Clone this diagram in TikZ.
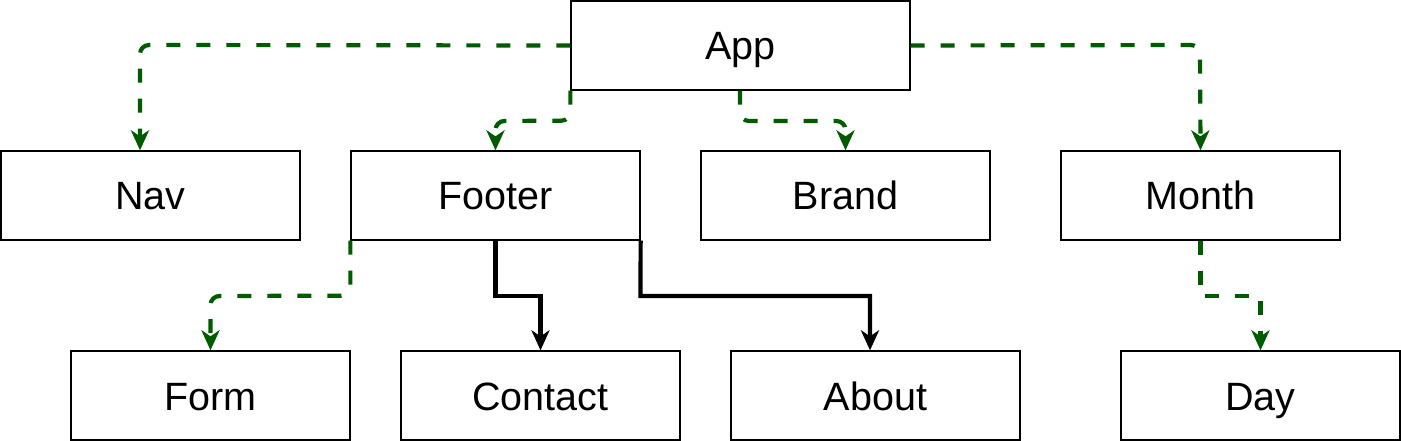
\documentclass[tikz,border=0pt]{standalone}
\usepackage{fontspec}
\setmainfont{Liberation Sans}
\usetikzlibrary{arrows.meta}
\definecolor{dgreen}{RGB}{0,90,0}
\tikzset{
  box/.style={draw=black, line width=1.3pt, fill=white, minimum width=#1, minimum height=89pt, inner sep=0pt, text height=29pt, text depth=0pt, font=\fontsize{39.5}{47}\selectfont},
  box/.default=289pt,
  garrow/.style={draw=dgreen, line width=4.2pt, dash pattern=on 14pt off 16pt, rounded corners=9pt, -{Stealth[length=20pt,width=18pt,inset=6pt]}},
  karrow/.style={draw=black, line width=4.2pt, -{Stealth[length=20pt,width=18pt,inset=6pt]}},
}
\begin{document}
\begin{tikzpicture}[x=1pt,y=-1pt]
\useasboundingbox (0,0) rectangle (1401,441);
\node[box=339pt] (app) at (740.5,45.5) {App};
\node[box=299pt] (nav) at (150.5,195.5) {Nav};
\node[box] (footer) at (495.5,195.5) {Footer};
\node[box] (brand) at (845.5,195.5) {Brand};
\node[box=279pt] (month) at (1200.5,195.5) {Month};
\node[box=279pt] (form) at (210.5,395.5) {Form};
\node[box=279pt] (contact) at (540.5,395.5) {Contact};
\node[box] (about) at (875.5,395.5) {About};
\node[box=279pt] (day) at (1260.5,395.5) {Day};
\coordinate (c1) at (140,45);
\coordinate (c2) at (1200,45);
\draw[garrow] (app.west) -- (c1) -- (nav.north -| c1);
\draw[garrow] (app.east) -- (c2) -- (month.north);
\draw[garrow] (app.south west) -- ++(0,30) -- (495.5,121) -- (footer.north);
\draw[garrow] (app.south -| 740,0) -- (740,121) -- (845.5,121) -- (brand.north);
\draw[garrow] (footer.south west) -- ++(0,55) -- (210.5,296) -- (form.north);
\draw[karrow] (footer.south) -- (495.5,296) -- (540.5,296) -- (contact.north);
\draw[karrow] (footer.south east) -- (640.5,296) -- (870,296) -- (about.north -| 870,0);
\draw[garrow, rounded corners=0pt] (month.south) -- (1200.5,296) -- (1260.5,296) -- (day.north);
\end{tikzpicture}
\end{document}
